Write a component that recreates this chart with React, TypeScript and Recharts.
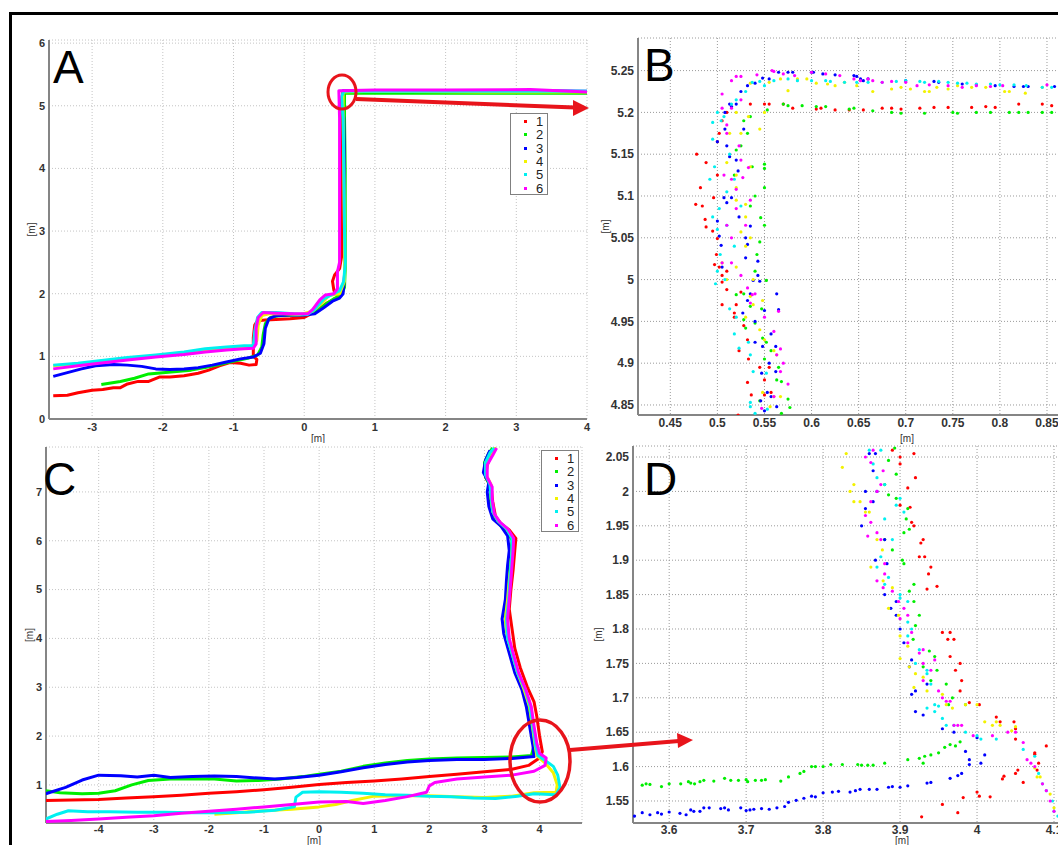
import React from "react";
import { ScatterChart, Scatter, XAxis, YAxis, CartesianGrid, Legend } from "recharts";

type Pt = { x: number; y: number };
const pts = (arr: number[][]): Pt[] => arr.map(([x, y]) => ({ x, y }));

const FONT = '"Liberation Sans", Arial, Helvetica, sans-serif';
const SERIES_NAMES = ["1", "2", "3", "4", "5", "6"];
const SERIES_COLORS = ["#ff0000", "#00ee00", "#0000ff", "#f2f200", "#00f0f0", "#ff00ff"];
const ANNOT_RED = "#e8141b";

// ---- panel A: full trajectories, corridor 1
const aTicksX = [-3, -2, -1, 0, 1, 2, 3, 4];
const aTicksY = [0, 1, 2, 3, 4, 5, 6];
const aRed = pts([[-3.55,0.37],[-3.35,0.38],[-3.2,0.42],[-3.0,0.46],[-2.85,0.47],[-2.7,0.5],[-2.6,0.5],[-2.5,0.56],[-2.35,0.6],[-2.2,0.6],[-2.05,0.67],[-1.9,0.67],[-1.7,0.69],[-1.5,0.73],[-1.35,0.78],[-1.2,0.85],[-1.05,0.9],[-0.9,0.89],[-0.78,0.86],[-0.68,0.87],[-0.67,0.95],[-0.72,1.0],[-0.72,1.3],[-0.7,1.5],[-0.66,1.57],[-0.55,1.58],[-0.4,1.59],[-0.2,1.6],[0,1.62],[0.1,1.68],[0.2,1.75],[0.32,1.85],[0.45,1.92],[0.48,1.98],[0.42,2.05],[0.4,2.2],[0.43,2.3],[0.5,2.4],[0.53,2.6],[0.54,3.5],[0.54,4.5],[0.53,5.1],[0.55,5.21],[0.7,5.21],[1.5,5.21],[2.5,5.21],[3.2,5.22],[4,5.21]]);
const aGreen = pts([[-2.87,0.55],[-2.6,0.6],[-2.4,0.65],[-2.2,0.72],[-2.0,0.74],[-1.8,0.76],[-1.6,0.78],[-1.4,0.82],[-1.2,0.87],[-1.0,0.92],[-0.8,0.97],[-0.66,1.02],[-0.6,1.15],[-0.58,1.35],[-0.55,1.52],[-0.48,1.62],[-0.35,1.65],[-0.1,1.66],[0.05,1.67],[0.18,1.72],[0.3,1.83],[0.42,1.92],[0.52,1.97],[0.57,2.1],[0.58,2.4],[0.58,3.0],[0.58,4.0],[0.57,4.8],[0.57,5.2],[0.8,5.2],[2,5.2],[3,5.2],[4,5.2]]);
const aBlue = pts([[-3.55,0.68],[-3.35,0.74],[-3.15,0.8],[-2.95,0.85],[-2.7,0.87],[-2.5,0.86],[-2.3,0.84],[-2.1,0.8],[-1.9,0.79],[-1.7,0.8],[-1.5,0.82],[-1.3,0.86],[-1.1,0.91],[-0.9,0.96],[-0.72,0.99],[-0.62,1.05],[-0.57,1.2],[-0.55,1.45],[-0.5,1.6],[-0.4,1.65],[-0.2,1.66],[0,1.66],[0.15,1.68],[0.28,1.78],[0.4,1.88],[0.5,1.93],[0.55,2.0],[0.57,2.3],[0.57,3.0],[0.57,4.0],[0.56,4.8],[0.53,5.05],[0.55,5.24],[0.8,5.24],[1.5,5.24],[2.5,5.24],[3.3,5.24],[4,5.23]]);
const aYellow = pts([[-3.55,0.85],[-3.2,0.88],[-2.9,0.92],[-2.5,0.96],[-2.1,1.0],[-1.7,1.05],[-1.3,1.1],[-1.0,1.13],[-0.75,1.15],[-0.67,1.25],[-0.65,1.5],[-0.6,1.65],[-0.5,1.68],[-0.3,1.68],[-0.05,1.67],[0.12,1.72],[0.25,1.85],[0.35,1.97],[0.5,2.0],[0.57,2.2],[0.57,3.0],[0.56,4.0],[0.55,5.0],[0.55,5.22],[1.0,5.23],[2.5,5.22],[4,5.22]]);
const aCyan = pts([[-3.55,0.86],[-3.2,0.89],[-2.9,0.93],[-2.5,0.98],[-2.1,1.02],[-1.7,1.07],[-1.4,1.12],[-1.1,1.15],[-0.85,1.17],[-0.72,1.17],[-0.7,1.4],[-0.66,1.62],[-0.6,1.7],[-0.4,1.7],[-0.15,1.68],[0.05,1.67],[0.15,1.75],[0.28,1.92],[0.42,2.0],[0.5,2.05],[0.56,2.2],[0.58,2.5],[0.57,3.0],[0.56,4.0],[0.55,4.8],[0.53,5.15],[0.56,5.23],[1.0,5.23],[2.5,5.23],[4,5.23]]);
const aMagenta = pts([[-3.55,0.8],[-3.2,0.85],[-2.9,0.89],[-2.5,0.94],[-2.1,0.99],[-1.7,1.03],[-1.4,1.07],[-1.1,1.1],[-0.85,1.12],[-0.72,1.13],[-0.68,1.2],[-0.68,1.45],[-0.65,1.62],[-0.58,1.7],[-0.4,1.69],[-0.15,1.68],[0.05,1.68],[0.12,1.75],[0.22,1.9],[0.3,1.98],[0.42,2.0],[0.47,2.08],[0.47,2.35],[0.5,2.5],[0.5,3.0],[0.5,4.0],[0.5,4.8],[0.49,5.24],[1.0,5.25],[2.0,5.25],[3.2,5.26],[4,5.22]]);

// ---- panel B: zoom of the corner in A
const bTicksX = [0.45, 0.5, 0.55, 0.6, 0.65, 0.7, 0.75, 0.8, 0.85, 0.9, 0.95];
const bTicksY = [4.85, 4.9, 4.95, 5, 5.05, 5.1, 5.15, 5.2, 5.25];
const bRed = pts([[0.55,5.21],[0.555,5.21],[0.57,5.21],[0.58,5.205],[0.605,5.204],[0.61,5.205],[0.625,5.203],[0.64,5.203],[0.655,5.203],[0.675,5.205],[0.685,5.205],[0.695,5.204],[0.715,5.205],[0.73,5.206],[0.745,5.206],[0.77,5.206],[0.785,5.207],[0.795,5.206],[0.82,5.21],[0.845,5.21],[0.855,5.208],[0.535,5.21],[0.51,5.2],[0.505,5.19],[0.502,5.175],[0.5,5.165],[0.478,5.15],[0.488,5.14],[0.5,5.125],[0.482,5.11],[0.496,5.098],[0.477,5.09],[0.484,5.088],[0.487,5.072],[0.488,5.063],[0.495,5.058],[0.5,5.049],[0.499,5.03],[0.502,5.015],[0.497,5.018],[0.505,5.005],[0.505,4.997],[0.51,4.988],[0.505,4.97],[0.52,4.97],[0.518,4.955],[0.528,4.945],[0.523,4.915],[0.532,4.928],[0.533,4.905],[0.518,4.96],[0.545,4.895],[0.555,4.895],[0.532,4.877],[0.55,4.88],[0.536,4.862],[0.55,4.862],[0.557,4.865],[0.522,4.838],[0.51,5.01],[0.525,4.985]]);
const bGreen = pts([[0.553,5.203],[0.57,5.21],[0.575,5.208],[0.59,5.208],[0.605,5.207],[0.615,5.207],[0.64,5.204],[0.645,5.205],[0.665,5.202],[0.685,5.2],[0.695,5.199],[0.72,5.199],[0.75,5.2],[0.755,5.199],[0.775,5.2],[0.79,5.2],[0.81,5.2],[0.82,5.2],[0.83,5.2],[0.845,5.2],[0.855,5.2],[0.535,5.195],[0.528,5.19],[0.525,5.16],[0.532,5.175],[0.52,5.155],[0.537,5.135],[0.55,5.138],[0.55,5.133],[0.518,5.125],[0.55,5.11],[0.54,5.1],[0.535,5.088],[0.546,5.074],[0.55,5.065],[0.545,5.045],[0.542,5.03],[0.54,5.01],[0.552,4.999],[0.52,4.982],[0.528,4.983],[0.535,4.968],[0.547,4.965],[0.528,4.952],[0.54,4.948],[0.53,4.942],[0.548,4.93],[0.552,4.925],[0.557,4.915],[0.55,4.905],[0.565,4.895],[0.563,4.88],[0.568,4.878],[0.575,4.857],[0.577,4.847],[0.568,4.84],[0.545,4.855]]);
const bBlue = pts([[0.555,5.24],[0.565,5.248],[0.575,5.248],[0.58,5.248],[0.6,5.248],[0.602,5.248],[0.612,5.246],[0.625,5.245],[0.645,5.244],[0.648,5.243],[0.652,5.24],[0.655,5.238],[0.66,5.24],[0.7,5.238],[0.73,5.237],[0.735,5.236],[0.76,5.234],[0.775,5.233],[0.795,5.232],[0.815,5.231],[0.825,5.231],[0.83,5.231],[0.858,5.231],[0.548,5.241],[0.54,5.235],[0.532,5.232],[0.525,5.225],[0.515,5.207],[0.508,5.2],[0.513,5.21],[0.52,5.21],[0.528,5.18],[0.5,5.165],[0.508,5.18],[0.51,5.16],[0.52,5.143],[0.522,5.13],[0.513,5.147],[0.507,5.098],[0.515,5.098],[0.51,5.092],[0.523,5.075],[0.5,5.07],[0.535,5.064],[0.53,5.05],[0.502,5.052],[0.504,5.041],[0.532,5.042],[0.53,5.026],[0.543,5.022],[0.543,5.005],[0.505,5.015],[0.538,4.999],[0.545,4.998],[0.535,4.983],[0.563,4.983],[0.532,4.975],[0.527,4.96],[0.55,4.963],[0.565,4.964],[0.54,4.95],[0.557,4.935],[0.54,4.925],[0.548,4.92],[0.562,4.92],[0.555,4.9],[0.547,4.888],[0.562,4.89],[0.553,4.865],[0.557,4.86],[0.546,4.855],[0.563,4.848],[0.55,4.843]]);
const bYellow = pts([[0.545,5.18],[0.55,5.2],[0.555,5.236],[0.567,5.24],[0.575,5.226],[0.585,5.24],[0.595,5.24],[0.605,5.235],[0.617,5.234],[0.625,5.232],[0.635,5.236],[0.648,5.232],[0.665,5.225],[0.685,5.228],[0.695,5.23],[0.705,5.228],[0.72,5.225],[0.725,5.225],[0.733,5.23],[0.745,5.228],[0.755,5.232],[0.77,5.23],[0.785,5.23],[0.805,5.225],[0.81,5.225],[0.827,5.223],[0.845,5.23],[0.535,5.235],[0.52,5.2],[0.533,5.195],[0.513,5.175],[0.525,5.175],[0.51,5.14],[0.52,5.125],[0.535,5.135],[0.52,5.11],[0.53,5.09],[0.52,5.095],[0.53,5.075],[0.525,5.057],[0.535,5.05],[0.53,5.04],[0.505,5.02],[0.52,5.015],[0.51,5.0],[0.538,5.0],[0.535,4.98],[0.548,4.975],[0.538,4.97],[0.53,4.955],[0.545,4.94],[0.55,4.928],[0.56,4.915],[0.563,4.91],[0.548,4.865],[0.56,4.86],[0.567,4.86],[0.556,4.848]]);
const bCyan = pts([[0.537,5.236],[0.545,5.237],[0.55,5.232],[0.56,5.238],[0.575,5.24],[0.585,5.238],[0.6,5.238],[0.615,5.238],[0.62,5.237],[0.635,5.236],[0.648,5.236],[0.66,5.236],[0.675,5.236],[0.69,5.237],[0.7,5.238],[0.715,5.237],[0.72,5.236],[0.735,5.237],[0.745,5.236],[0.755,5.235],[0.765,5.235],[0.775,5.234],[0.79,5.234],[0.8,5.233],[0.815,5.233],[0.828,5.232],[0.845,5.23],[0.855,5.23],[0.53,5.225],[0.52,5.215],[0.515,5.21],[0.5,5.2],[0.507,5.195],[0.504,5.19],[0.495,5.188],[0.513,5.15],[0.495,5.168],[0.497,5.135],[0.492,5.12],[0.518,5.12],[0.51,5.105],[0.502,5.085],[0.495,5.075],[0.525,5.088],[0.5,5.06],[0.51,5.065],[0.518,5.04],[0.503,5.03],[0.5,5.01],[0.508,5.0],[0.498,4.995],[0.52,4.955],[0.513,4.965],[0.518,4.935],[0.523,4.918],[0.533,4.925],[0.535,4.91],[0.538,4.89],[0.535,4.853],[0.535,4.848],[0.54,4.84],[0.552,4.888],[0.553,4.845]]);
const bMagenta = pts([[0.542,5.245],[0.558,5.25],[0.56,5.249],[0.57,5.246],[0.582,5.244],[0.6,5.248],[0.615,5.246],[0.63,5.244],[0.645,5.24],[0.652,5.238],[0.66,5.24],[0.665,5.238],[0.675,5.236],[0.685,5.237],[0.7,5.236],[0.712,5.232],[0.725,5.233],[0.745,5.232],[0.76,5.23],[0.775,5.232],[0.79,5.231],[0.803,5.232],[0.85,5.233],[0.52,5.243],[0.525,5.243],[0.515,5.238],[0.505,5.222],[0.515,5.205],[0.505,5.205],[0.525,5.215],[0.51,5.185],[0.51,5.175],[0.523,5.16],[0.525,5.143],[0.533,5.134],[0.507,5.125],[0.515,5.12],[0.527,5.122],[0.52,5.108],[0.52,5.085],[0.535,5.095],[0.53,5.065],[0.515,5.05],[0.51,5.065],[0.505,5.02],[0.515,5.02],[0.525,5.005],[0.532,4.99],[0.537,4.982],[0.54,4.983],[0.535,4.972],[0.55,4.955],[0.565,4.962],[0.56,4.938],[0.567,4.917],[0.563,4.91],[0.57,4.9],[0.567,4.89],[0.575,4.875],[0.56,4.86],[0.547,4.846]]);

// ---- panel C: full trajectories, corridor 2
const cTicksX = [-4, -3, -2, -1, 0, 1, 2, 3, 4];
const cTicksY = [1, 2, 3, 4, 5, 6, 7];
const cRed = pts([[-4.96,0.68],[-4.5,0.69],[-4,0.7],[-3.5,0.73],[-3,0.76],[-2.5,0.79],[-2,0.83],[-1.5,0.86],[-1,0.9],[-0.5,0.95],[0,1.01],[0.5,1.05],[1,1.08],[1.5,1.12],[2,1.17],[2.5,1.22],[3,1.27],[3.5,1.32],[3.8,1.4],[4.0,1.55],[4.05,1.68],[4.0,2.0],[3.95,2.4],[3.9,2.7],[3.78,3.0],[3.65,3.4],[3.55,3.8],[3.5,4.2],[3.45,4.6],[3.48,5.0],[3.52,5.4],[3.55,5.8],[3.57,6.05],[3.45,6.22],[3.3,6.35],[3.2,6.5],[3.15,6.8],[3.12,7.1],[3.02,7.3],[3.05,7.55],[3.12,7.75],[3.2,7.9]]);
const cGreen = pts([[-4.96,0.88],[-4.7,0.84],[-4.3,0.82],[-4.0,0.83],[-3.7,0.88],[-3.4,1.0],[-3.1,1.09],[-2.7,1.12],[-2.3,1.12],[-1.9,1.12],[-1.5,1.08],[-1.1,1.09],[-0.7,1.12],[-0.3,1.17],[0,1.22],[0.4,1.28],[0.8,1.38],[1.2,1.45],[1.6,1.5],[2.0,1.53],[2.5,1.55],[3.0,1.56],[3.5,1.57],[3.85,1.6],[3.9,1.8],[3.85,2.2],[3.8,2.6],[3.72,2.95],[3.58,3.3],[3.48,3.7],[3.42,4.0],[3.38,4.4],[3.4,4.8],[3.42,5.2],[3.45,5.5],[3.48,5.8],[3.5,6.0],[3.42,6.2],[3.3,6.3],[3.18,6.5],[3.1,6.8],[3.12,7.1],[3.02,7.3],[3.0,7.6],[3.08,7.8],[3.15,7.9]]);
const cBlue = pts([[-4.96,0.82],[-4.6,0.95],[-4.3,1.1],[-4.0,1.2],[-3.6,1.19],[-3.3,1.16],[-3.0,1.2],[-2.7,1.15],[-2.3,1.17],[-1.9,1.18],[-1.5,1.17],[-1.1,1.14],[-0.8,1.12],[-0.4,1.15],[0,1.2],[0.4,1.27],[0.8,1.35],[1.2,1.42],[1.6,1.47],[2.0,1.5],[2.5,1.52],[3.0,1.52],[3.5,1.54],[3.9,1.58],[3.88,1.8],[3.82,2.2],[3.76,2.6],[3.68,2.95],[3.55,3.3],[3.45,3.7],[3.35,4.1],[3.32,4.4],[3.38,4.8],[3.4,5.2],[3.42,5.5],[3.45,5.8],[3.42,6.1],[3.3,6.3],[3.15,6.45],[3.08,6.7],[3.05,7.0],[3.08,7.2],[2.98,7.4],[3.02,7.65],[3.1,7.85]]);
const cYellow = pts([[-1.9,0.4],[-1.5,0.43],[-1,0.47],[-0.5,0.5],[0,0.55],[0.3,0.6],[0.6,0.68],[1,0.77],[1.5,0.78],[2,0.78],[2.5,0.76],[3,0.74],[3.5,0.77],[3.9,0.84],[4.3,0.85],[4.32,1.0],[4.25,1.25],[4.1,1.45],[3.95,1.6],[3.92,1.8],[3.87,2.2],[3.82,2.6],[3.72,2.95],[3.6,3.3],[3.5,3.7],[3.42,4.0],[3.38,4.4],[3.42,4.8],[3.45,5.2],[3.48,5.5],[3.5,5.8],[3.52,6.05],[3.4,6.25],[3.25,6.4],[3.15,6.6],[3.12,6.9],[3.12,7.15],[3.03,7.35],[3.02,7.6],[3.12,7.8],[3.2,7.92]]);
const cCyan = pts([[-4.96,0.3],[-4.75,0.4],[-4.55,0.47],[-4.2,0.45],[-3.8,0.45],[-3.3,0.44],[-2.8,0.44],[-2.3,0.43],[-1.8,0.43],[-1.3,0.44],[-0.8,0.48],[-0.45,0.55],[-0.42,0.75],[-0.3,0.85],[0,0.86],[0.4,0.85],[0.8,0.83],[1.2,0.8],[1.6,0.79],[2.0,0.77],[2.4,0.76],[2.8,0.73],[3.2,0.72],[3.6,0.77],[3.9,0.82],[4.3,0.8],[4.37,0.95],[4.33,1.2],[4.25,1.38],[4.1,1.5],[3.97,1.6],[3.93,1.8],[3.88,2.2],[3.83,2.6],[3.74,2.95],[3.6,3.3],[3.5,3.7],[3.42,4.0],[3.4,4.4],[3.44,4.8],[3.46,5.2],[3.48,5.5],[3.5,5.8],[3.5,6.05],[3.4,6.25],[3.25,6.4],[3.15,6.6],[3.12,6.9],[3.1,7.15],[3.02,7.35],[3.02,7.6],[3.1,7.8],[3.18,7.9]]);
const cMagenta = pts([[-4.96,0.25],[-4.5,0.27],[-4,0.3],[-3.5,0.34],[-3,0.37],[-2.5,0.42],[-2,0.46],[-1.5,0.5],[-1,0.55],[-0.5,0.6],[0,0.65],[0.5,0.66],[0.8,0.62],[1.2,0.68],[1.6,0.76],[1.95,0.85],[2.0,0.98],[2.1,1.05],[2.5,1.12],[3.0,1.16],[3.5,1.2],[3.9,1.28],[4.1,1.4],[4.12,1.55],[4.0,1.65],[3.95,1.85],[3.9,2.2],[3.85,2.6],[3.75,2.95],[3.62,3.3],[3.52,3.7],[3.45,4.0],[3.42,4.4],[3.45,4.8],[3.48,5.2],[3.5,5.5],[3.52,5.8],[3.53,6.05],[3.42,6.25],[3.28,6.38],[3.18,6.55],[3.14,6.85],[3.14,7.1],[3.05,7.3],[3.05,7.55],[3.15,7.75],[3.22,7.9]]);

// ---- panel D: zoom of the corner in C
const dTicksX = [3.6, 3.7, 3.8, 3.9, 4, 4.1, 4.2];
const dTicksY = [1.55, 1.6, 1.65, 1.7, 1.75, 1.8, 1.85, 1.9, 1.95, 2, 2.05];
const dRed = pts([[3.928,1.527],[3.955,1.545],[3.975,1.533],[3.982,1.555],[4.0,1.563],[4.003,1.557],[4.017,1.556],[4.033,1.582],[4.035,1.586],[4.053,1.595],[4.06,1.577],[4.078,1.595],[4.08,1.605],[4.075,1.618],[4.09,1.63],[4.075,1.62],[4.05,1.64],[4.05,1.655],[4.048,1.665],[4.03,1.665],[4.025,1.672],[4.003,1.69],[3.99,1.693],[3.978,1.71],[3.98,1.725],[3.972,1.74],[3.978,1.75],[3.965,1.76],[3.97,1.785],[3.962,1.785],[3.965,1.795],[3.955,1.795],[3.948,1.862],[3.935,1.858],[3.937,1.88],[3.94,1.89],[3.925,1.905],[3.932,1.905],[3.927,1.925],[3.915,1.955],[3.918,1.95],[3.913,1.977],[3.9,1.98],[3.91,2.005],[3.92,2.02],[3.9,2.04],[3.9,2.05],[3.918,2.055],[3.89,2.06],[3.93,1.93],[4.05,1.59]]);
const dGreen = pts([[3.565,1.573],[3.57,1.575],[3.575,1.574],[3.59,1.571],[3.6,1.575],[3.615,1.575],[3.625,1.578],[3.628,1.576],[3.633,1.575],[3.64,1.578],[3.645,1.58],[3.658,1.579],[3.672,1.583],[3.68,1.58],[3.69,1.58],[3.7,1.581],[3.702,1.578],[3.712,1.58],[3.72,1.58],[3.725,1.581],[3.745,1.579],[3.755,1.585],[3.77,1.59],[3.775,1.593],[3.785,1.6],[3.79,1.6],[3.8,1.6],[3.81,1.603],[3.825,1.603],[3.845,1.603],[3.85,1.602],[3.858,1.602],[3.865,1.602],[3.88,1.605],[3.91,1.61],[3.925,1.612],[3.932,1.615],[3.94,1.617],[3.95,1.62],[3.958,1.628],[3.965,1.632],[3.978,1.636],[3.972,1.63],[3.93,1.605],[3.985,1.69],[3.963,1.69],[3.968,1.7],[3.96,1.72],[3.948,1.74],[3.94,1.725],[3.93,1.745],[3.945,1.76],[3.938,1.768],[3.917,1.785],[3.92,1.805],[3.925,1.82],[3.918,1.84],[3.912,1.855],[3.918,1.865],[3.905,1.895],[3.903,1.9],[3.89,1.915],[3.88,1.93],[3.905,1.94],[3.908,1.96],[3.912,1.945],[3.91,1.975],[3.895,1.99],[3.885,1.995],[3.88,2.01],[3.895,2.025],[3.885,2.045],[3.893,2.063]]);
const dBlue = pts([[3.555,1.528],[3.565,1.533],[3.575,1.53],[3.585,1.533],[3.59,1.531],[3.6,1.534],[3.614,1.532],[3.622,1.53],[3.628,1.537],[3.632,1.535],[3.64,1.535],[3.645,1.54],[3.652,1.54],[3.667,1.539],[3.672,1.54],[3.677,1.537],[3.693,1.54],[3.7,1.536],[3.705,1.537],[3.71,1.538],[3.72,1.539],[3.73,1.538],[3.74,1.54],[3.75,1.542],[3.755,1.548],[3.765,1.551],[3.775,1.554],[3.785,1.557],[3.79,1.556],[3.8,1.562],[3.812,1.563],[3.82,1.564],[3.835,1.563],[3.842,1.565],[3.848,1.567],[3.86,1.567],[3.87,1.567],[3.885,1.57],[3.89,1.571],[3.9,1.57],[3.91,1.572],[3.935,1.576],[3.94,1.577],[3.965,1.583],[3.975,1.587],[3.98,1.59],[3.99,1.61],[3.99,1.603],[4.005,1.605],[3.985,1.622],[4.01,1.617],[4.0,1.642],[3.97,1.65],[3.955,1.655],[3.93,1.675],[3.92,1.68],[3.915,1.705],[3.92,1.71],[3.935,1.72],[3.912,1.745],[3.915,1.755],[3.905,1.78],[3.9,1.8],[3.895,1.82],[3.888,1.83],[3.895,1.84],[3.88,1.85],[3.883,1.895],[3.868,1.9],[3.88,1.93],[3.85,1.95],[3.855,1.975],[3.865,1.985],[3.87,2.0],[3.865,2.03],[3.86,2.055],[3.868,2.055],[3.855,2.0]]);
const dYellow = pts([[3.83,2.055],[3.825,2.035],[3.835,2.0],[3.84,2.01],[3.84,1.985],[3.848,1.985],[3.855,1.97],[3.86,1.97],[3.87,1.93],[3.877,1.915],[3.862,1.89],[3.878,1.87],[3.89,1.86],[3.885,1.83],[3.898,1.82],[3.9,1.79],[3.91,1.775],[3.9,1.757],[3.912,1.745],[3.92,1.735],[3.93,1.73],[3.918,1.715],[3.935,1.71],[3.955,1.705],[3.96,1.69],[3.968,1.685],[3.985,1.69],[4.0,1.69],[4.01,1.665],[4.02,1.66],[4.03,1.66],[4.025,1.665],[4.045,1.652],[4.05,1.658],[4.075,1.598],[4.078,1.585],[4.082,1.585],[4.095,1.56],[4.1,1.54]]);
const dCyan = pts([[3.86,2.06],[3.875,2.06],[3.865,2.04],[3.87,2.02],[3.88,2.01],[3.9,1.99],[3.895,1.98],[3.905,1.97],[3.88,1.96],[3.89,1.93],[3.875,1.905],[3.87,1.89],[3.88,1.865],[3.885,1.875],[3.9,1.85],[3.9,1.845],[3.91,1.84],[3.91,1.81],[3.91,1.79],[3.915,1.8],[3.925,1.77],[3.92,1.75],[3.935,1.74],[3.935,1.735],[3.94,1.72],[3.945,1.69],[3.935,1.685],[3.95,1.688],[3.945,1.68],[3.955,1.67],[3.96,1.66],[3.97,1.66],[3.985,1.65],[4.0,1.645],[4.005,1.64],[4.025,1.64],[4.06,1.625],[4.075,1.615],[4.08,1.59],[4.085,1.575],[4.09,1.565],[4.098,1.55],[4.1,1.535],[4.105,1.528]]);
const dMagenta = pts([[3.865,2.06],[3.855,2.05],[3.862,2.042],[3.878,2.03],[3.87,2.0],[3.875,2.01],[3.862,1.985],[3.855,1.965],[3.862,1.955],[3.87,1.94],[3.875,1.93],[3.858,1.935],[3.88,1.895],[3.88,1.88],[3.87,1.87],[3.878,1.86],[3.89,1.855],[3.898,1.84],[3.905,1.83],[3.9,1.815],[3.91,1.82],[3.915,1.795],[3.91,1.78],[3.925,1.765],[3.93,1.75],[3.93,1.77],[3.945,1.755],[3.94,1.74],[3.93,1.725],[3.95,1.71],[3.955,1.7],[3.96,1.695],[3.965,1.695],[3.975,1.66],[3.98,1.66],[3.97,1.66],[3.995,1.645],[4.02,1.645],[4.04,1.65],[4.05,1.65],[4.06,1.635],[4.065,1.61],[4.07,1.605],[4.075,1.6],[4.085,1.575],[4.09,1.565],[4.095,1.55],[4.1,1.535]]);

type PanelCfg = {
  letter: string;
  left: number;
  top: number;
  width: number;
  height: number;
  xDomain: [number, number];
  yDomain: [number, number];
  xTicks: number[];
  yTicks: number[];
  xAxisHeight: number;
  xTickMargin: number;
  xLabelOffset: number;
  yLabelOffset: number;
  fontSize: number;
  gridColor: string;
  mode: "track" | "dots";
  series: Pt[][];
  legend?: { left: number; top: number };
};

const noDot = () => <g />;
const roundDot = (color: string) => (props: any) =>
  <circle cx={props.cx} cy={props.cy} r={1.6} fill={color} />;

function LegendBox() {
  return (
    <div
      style={{
        boxSizing: "border-box",
        width: 38,
        height: 82,
        border: "1.5px solid #808080",
        background: "#fff",
        paddingTop: 1,
        fontFamily: FONT,
        fontSize: 13,
        color: "#222",
      }}
    >
      {SERIES_NAMES.map((n, i) => (
        <div key={n} style={{ display: "flex", alignItems: "center", height: 13.3 }}>
          <span style={{ width: 3, height: 3, marginLeft: 13, marginRight: 9, background: SERIES_COLORS[i] }} />
          <span>{n}</span>
        </div>
      ))}
    </div>
  );
}

function Panel({ cfg }: { cfg: PanelCfg }) {
  const tickStyle = { fill: "#333", fontSize: cfg.fontSize, fontWeight: 700, fontFamily: FONT };
  const labelStyle = { fill: "#333", fontSize: 10, fontFamily: FONT };
  const axisLine = { stroke: "#858585", strokeWidth: 2 };
  return (
    <div style={{ position: "absolute", left: cfg.left, top: cfg.top }}>
      <ScatterChart width={cfg.width} height={cfg.height} margin={{ top: 5, right: 5, left: 0, bottom: 0 }}>
        <CartesianGrid stroke={cfg.gridColor} strokeDasharray="1 2" />
        <XAxis
          type="number"
          dataKey="x"
          domain={cfg.xDomain}
          ticks={cfg.xTicks}
          interval={0}
          allowDataOverflow
          height={cfg.xAxisHeight}
          tickLine={false}
          tickSize={0}
          tickMargin={cfg.xTickMargin}
          axisLine={axisLine}
          tick={tickStyle}
          label={{ value: "[m]", position: "insideBottom", offset: cfg.xLabelOffset, style: labelStyle }}
        />
        <YAxis
          type="number"
          dataKey="y"
          domain={cfg.yDomain}
          ticks={cfg.yTicks}
          interval={0}
          allowDataOverflow
          width={40}
          tickLine={false}
          tickSize={0}
          tickMargin={4}
          axisLine={axisLine}
          tick={tickStyle}
          label={{
            value: "[m]",
            angle: -90,
            position: "insideLeft",
            offset: cfg.yLabelOffset,
            style: { ...labelStyle, textAnchor: "middle" },
          }}
        />
        {cfg.series.map((data, i) =>
          cfg.mode === "track" ? (
            <Scatter
              key={i}
              name={SERIES_NAMES[i]}
              data={data}
              fill={SERIES_COLORS[i]}
              line={{ stroke: SERIES_COLORS[i], strokeWidth: 3, strokeLinejoin: "round" }}
              shape={noDot}
              isAnimationActive={false}
            />
          ) : (
            <Scatter
              key={i}
              name={SERIES_NAMES[i]}
              data={data}
              fill={SERIES_COLORS[i]}
              shape={roundDot(SERIES_COLORS[i])}
              isAnimationActive={false}
            />
          )
        )}
        {cfg.legend && (
          <Legend
            layout="horizontal"
            verticalAlign="middle"
            align="center"
            content={() => <LegendBox />}
            wrapperStyle={{ left: cfg.legend.left, top: cfg.legend.top, width: "auto", height: "auto" }}
          />
        )}
      </ScatterChart>
    </div>
  );
}

const panels: PanelCfg[] = [
  {
    letter: "A", left: 9, top: 35, width: 583, height: 408,
    xDomain: [-3.61, 4], yDomain: [0, 6.05], xTicks: aTicksX, yTicks: aTicksY,
    xAxisHeight: 24, xTickMargin: 4, xLabelOffset: 1, yLabelOffset: 22, fontSize: 11, gridColor: "#c4c4c4",
    mode: "track", series: [aRed, aGreen, aBlue, aYellow, aCyan, aMagenta],
    legend: { left: 501, top: 78 },
  },
  {
    letter: "B", left: 598, top: 33, width: 583, height: 411,
    xDomain: [0.4157, 0.987], yDomain: [4.838, 5.289], xTicks: bTicksX, yTicks: bTicksY,
    xAxisHeight: 29, xTickMargin: 3, xLabelOffset: 2, yLabelOffset: 7, fontSize: 12, gridColor: "#9a9a9a",
    mode: "dots", series: [bRed, bGreen, bBlue, bYellow, bCyan, bMagenta],
  },
  {
    letter: "C", left: 6, top: 442, width: 581, height: 403,
    xDomain: [-4.956, 4.77], yDomain: [0.22, 7.92], xTicks: cTicksX, yTicks: cTicksY,
    xAxisHeight: 22, xTickMargin: 2, xLabelOffset: 1, yLabelOffset: 23, fontSize: 11, gridColor: "#c4c4c4",
    mode: "track", series: [cRed, cGreen, cBlue, cYellow, cCyan, cMagenta],
    legend: { left: 535, top: 8 },
  },
  {
    letter: "D", left: 593, top: 441, width: 583, height: 404,
    xDomain: [3.553, 4.252], yDomain: [1.518, 2.066], xTicks: dTicksX, yTicks: dTicksY,
    xAxisHeight: 22, xTickMargin: 2, xLabelOffset: 1, yLabelOffset: 5, fontSize: 12, gridColor: "#9a9a9a",
    mode: "dots", series: [dRed, dGreen, dBlue, dYellow, dCyan, dMagenta],
  },
];

const letterPos: Record<string, { left: number; top: number }> = {
  A: { left: 53, top: 44 },
  B: { left: 644, top: 42 },
  C: { left: 43, top: 456 },
  D: { left: 644, top: 456 },
};

export default function App() {
  return (
    <div
      style={{
        position: "absolute",
        left: 0,
        top: 0,
        width: 1058,
        height: 845,
        overflow: "hidden",
        background: "#fff",
      }}
    >
      <div
        style={{
          position: "absolute",
          left: 9,
          top: 12,
          width: 1200,
          height: 900,
          borderTop: "3px solid #000",
          borderLeft: "3px solid #000",
        }}
      />
      {panels.map((cfg) => (
        <Panel key={cfg.letter} cfg={cfg} />
      ))}
      {panels.map((cfg) => (
        <div
          key={"l" + cfg.letter}
          style={{
            position: "absolute",
            left: letterPos[cfg.letter].left,
            top: letterPos[cfg.letter].top,
            fontFamily: FONT,
            fontSize: 46,
            lineHeight: "46px",
            color: "#000",
          }}
        >
          {cfg.letter}
        </div>
      ))}
      <svg width={1058} height={845} style={{ position: "absolute", left: 0, top: 0, pointerEvents: "none" }}>
        <ellipse cx={342} cy={92} rx={14} ry={17} fill="none" stroke={ANNOT_RED} strokeWidth={3} />
        <line x1={356} y1={99} x2={575} y2={107.5} stroke={ANNOT_RED} strokeWidth={4} />
        <polygon points="589,108 573,100 573,116" fill={ANNOT_RED} />
        <ellipse cx={540} cy={761} rx={30} ry={41} fill="none" stroke={ANNOT_RED} strokeWidth={3.5} />
        <line x1={570} y1={750} x2={679} y2={741} stroke={ANNOT_RED} strokeWidth={4} />
        <polygon points="693,740 677,733 678,748" fill={ANNOT_RED} />
      </svg>
    </div>
  );
}
